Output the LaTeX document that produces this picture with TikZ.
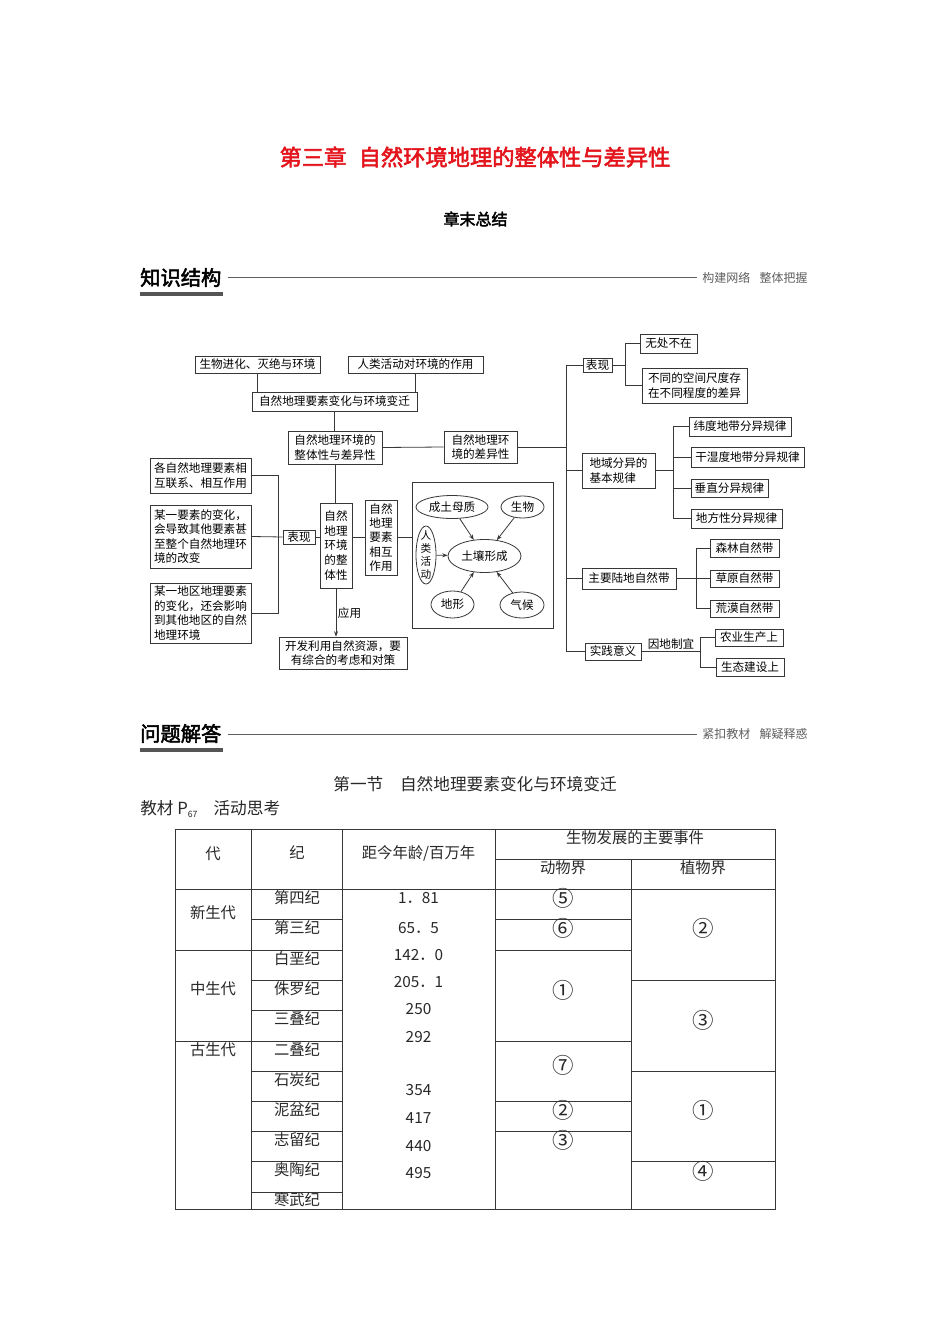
\documentclass[tikz,border=0pt]{standalone}
\usepackage{fontspec}
\setmainfont{Noto Sans CJK SC}
\newfontfamily\cjkb[FakeBold=2.5]{Noto Sans CJK SC}
\usetikzlibrary{shapes.geometric,arrows.meta}
\definecolor{tred}{RGB}{228,20,28}
\definecolor{lnc}{RGB}{55,55,55}
\definecolor{hg}{RGB}{95,95,95}
\definecolor{tcol}{RGB}{40,40,40}
\newcommand\fsz[2]{\fontsize{#1}{#2}\selectfont}
\newcommand\cir[1]{\scalebox{1.4}{#1}}
% \BX[opts]{name}{x1}{y1}{x2}{y2}{text}
\newcommand\BX[7][]{\node[bx,#1,minimum width={(#5-#3)*0.75pt},minimum height={(#6-#4)*0.75pt}] (#2) at ({(#3+#5)/2},{(#4+#6)/2}) {#7};}
% \EL[opts]{name}{cx}{cy}{w}{h}{text}
\newcommand\EL[7][]{\node[elp,#1,minimum width={#5*0.75pt},minimum height={#6*0.75pt}] (#2) at (#3,#4) {#7};}
\begin{document}
\begin{tikzpicture}[x=0.75pt,y=-0.75pt,
  bx/.style={draw=lnc,line width=0.6pt,inner sep=0pt,align=center,font=\fsz{8.7}{10.8}},
  elp/.style={ellipse,draw=lnc,line width=0.6pt,inner sep=0pt,font=\fsz{8.7}{10.8}},
  wire/.style={draw=lnc,line width=0.6pt},
  tx/.style={inner sep=0pt,font=\fsz{8.7}{10.8}},
  tbl/.style={draw=lnc,line width=0.6pt},
  td/.style={inner sep=0pt,text=tcol,font=\fsz{11.5}{13}},
  hdr/.style={inner sep=0pt,font=\cjkb\fsz{15.2}{16}},
  hdrr/.style={inner sep=0pt,text=hg,font=\fsz{9}{10}},
  arr/.style={-{Stealth[length=4pt,width=3pt]}}]
\useasboundingbox (0,0) rectangle (950,1344);
\fill[white] (0,0) rectangle (950,1344);

% ---------- titles ----------
\node[inner sep=0pt,text=tred,font=\cjkb\fsz{16.7}{18}] (title) at (475,157) {第三章\hspace{0.55em}自然环境地理的整体性与差异性};
\node[inner sep=0pt,font=\cjkb\fsz{12}{13}] (sub) at (475.5,219) {章末总结};

% ---------- section header 1 ----------
\node[hdr,anchor=west] (h1) at (140,277.5) {知识结构};
\fill[hg!90!black] (140,292) rectangle (223,296);
\coordinate (h1r) at (697,278);
\draw[hg,line width=0.6pt] (h1.east) ++(6,0) coordinate (h1l) -- (h1l -| h1r);
\node[hdrr,anchor=west] (h1t) at (702,277.5) {构建网络\hspace{7pt}整体把握};

% ---------- mind map ----------
\BX{bio}{195}{356}{320}{373}{生物进化、灭绝与环境}
\BX{hum}{348}{356}{483}{373}{人类活动对环境的作用}
\BX{ele}{252}{392}{417}{411}{自然地理要素变化与环境变迁}
\BX{whd}{288}{431}{382}{464}{自然地理环境的\\整体性与差异性}
\BX{dif}{444}{431}{517}{463}{自然地理环\\境的差异性}

\BX[align=left]{lb1}{150}{458}{251}{493}{各自然地理要素相\\互联系、相互作用}
\BX[align=left]{lb2}{150}{505}{251}{568}{某一要素的变化，\\会导致其他要素甚\\至整个自然地理环\\境的改变}
\BX[align=left]{lb3}{150}{583}{251}{643}{某一地区地理要素\\的变化，还会影响\\到其他地区的自然\\地理环境}
\BX{bx2}{283}{530}{315}{544}{表现}
\BX[font=\fsz{8.7}{11.2}]{whole}{320}{503}{352}{588}{自然\\地理\\环境\\的整\\体性}
\BX[font=\fsz{8.7}{10.6}]{req}{365}{500}{397}{575}{自然\\地理\\要素\\相互\\作用}
\BX{dev}{279}{637}{407}{669}{开发利用自然资源，要\\有综合的考虑和对策}

% soil box
\node[draw=lnc,line width=0.6pt,inner sep=0pt,minimum width={141*0.75pt},minimum height={146*0.75pt}] (sbox) at (482.5,555) {};
\EL{mu}{452}{507}{72}{23}{成土母质}
\EL{sw}{522.5}{507}{43}{22}{生物}
\EL{soil}{484.5}{556}{73}{33}{土壤形成}
\EL{ren}{426}{555}{20}{58}{}
\node[tx,align=center,font=\fsz{8}{9.8}] (rent) at (ren.center) {人\\类\\活\\动};
\EL{dx}{452.5}{604.5}{43}{27}{地形}
\EL{qh}{522}{605}{44}{26}{气候}
\draw[wire,arr] (mu) -- (soil);
\draw[wire,arr] (sw) -- (soil);
\draw[wire,arr] (ren) -- (soil);
\draw[wire,arr] (dx) -- (soil);
\draw[wire,arr] (qh) -- (soil);

% right side
\BX{rb1}{583}{358}{612}{372}{表现}
\BX[align=left]{rb2}{582}{453}{655}{488}{地域分异的\\基本规律}
\BX{rb3}{582}{568}{676}{589}{主要陆地自然带}
\BX{rb4}{585}{643}{641}{660}{实践意义}
\BX{c11}{640}{334}{697}{353}{无处不在}
\BX[align=left]{c12}{642}{368}{747}{403}{不同的空间尺度存\\在不同程度的差异}
\BX{c21}{689}{417}{791}{436}{纬度地带分异规律}
\BX{c22}{691}{447}{804}{467}{干湿度地带分异规律}
\BX{c23}{691}{479}{768}{497}{垂直分异规律}
\BX{c24}{691}{509}{782}{528}{地方性分异规律}
\BX{c31}{710}{539}{779}{557}{森林自然带}
\BX{c32}{710}{570}{779}{587}{草原自然带}
\BX{c33}{710}{600}{779}{617}{荒漠自然带}
\BX{c41}{715}{629}{783}{646}{农业生产上}
\BX{c42}{716}{658}{784}{676}{生态建设上}

% connectors (top)
\draw[wire] (bio.south) -- (bio.south |- ele.north);
\draw[wire] (hum.south) -- (hum.south |- ele.north);
\draw[wire] (ele.south) -- (ele.south |- whd.north);
\draw[wire] (whd.east) -- (dif.west);
% trunk
\coordinate (tk) at (566,0);
\draw[wire] (rb1.west) -- (rb1.west -| tk) -- (rb4.west -| tk) -- (rb4.west);
\draw[wire] (dif.east) -- (dif.east -| tk);
\draw[wire] (rb2.west) -- (rb2.west -| tk);
\draw[wire] (rb3.west) -- (rb3.west -| tk);
% forks right
\coordinate (f1) at (625,0);
\draw[wire] (rb1.east) -- (rb1.east -| f1);
\draw[wire] (c11.west) -- (c11.west -| f1) -- (c12.west -| f1) -- (c12.west);
\coordinate (f2) at (673,0);
\draw[wire] (rb2.east) -- (rb2.east -| f2);
\draw[wire] (c21.west) -- (c21.west -| f2) -- (c24.west -| f2) -- (c24.west);
\draw[wire] (c22.west) -- (c22.west -| f2);
\draw[wire] (c23.west) -- (c23.west -| f2);
\coordinate (f3) at (696,0);
\draw[wire] (rb3.east) -- (rb3.east -| f3);
\draw[wire] (c31.west) -- (c31.west -| f3) -- (c33.west -| f3) -- (c33.west);
\draw[wire] (c32.west) -- (c32.west -| f3);
\coordinate (f4) at (700,0);
\draw[wire] (rb4.east) -- (rb4.east -| f4);
\draw[wire] (c41.west) -- (c41.west -| f4) -- (c42.west -| f4) -- (c42.west);
\node[tx] (yd) at (671,644.5) {因地制宜};
% left side
\coordinate (fl) at (278,0);
\draw[wire] (lb1.east) -- (lb1.east -| fl) -- (lb3.east -| fl) -- (lb3.east);
\draw[wire] (lb2.east) -- (bx2.west);
\draw[wire] (bx2.east) -- (bx2.east -| whole.west);
\draw[wire] (whd.south) -- (whd.south |- whole.north);
\draw[wire] (req.west -| whole.east) -- (req.west);
\draw[wire] (req.east) -- (req.east -| sbox.west);
\draw[wire,arr] (whole.south) -- (whole.south |- dev.north);
\node[tx] (yy) at (349.5,613) {应用};

% ---------- section header 2 ----------
\node[hdr,anchor=west] (h2) at (140,733.5) {问题解答};
\fill[hg!90!black] (140,748) rectangle (223,752);
\draw[hg,line width=0.6pt] (h2.east) ++(6,0.5) coordinate (h2l) -- (h2l -| h1r);
\node[hdrr,anchor=west] (h2t) at (702,733.5) {紧扣教材\hspace{7pt}解疑释惑};

\node[inner sep=0pt,text=tcol,font=\fsz{12.5}{14}] (sec) at (475,784) {第一节\hspace{12.5pt}自然地理要素变化与环境变迁};
\node[inner sep=0pt,text=tcol,font=\fsz{12.5}{14},anchor=west] (jc) at (140,809) {教材 P\raisebox{-0.2em}{\fsz{6.5}{7}67}\hspace{12pt}活动思考};

% ---------- table ----------
\draw[tbl] (175,829) rectangle (775,1209);
\foreach \x in {251,342,495} \draw[tbl] (\x,829) -- (\x,1209);
\draw[tbl] (631,859) -- (631,1209);
\draw[tbl] (495,859) -- (775,859);
\draw[tbl] (175,889) -- (775,889);
\foreach \y in {950,1041} \draw[tbl] (175,\y) -- (251,\y);
\foreach \y in {919,950,980,1010,1041,1071,1101,1131,1161,1192} \draw[tbl] (251,\y) -- (342,\y);
\foreach \y in {919,950,1041,1101,1131} \draw[tbl] (495,\y) -- (631,\y);
\foreach \y in {980,1071,1161} \draw[tbl] (631,\y) -- (775,\y);

\node[td] (hd1) at (213,854) {代};
\node[td] (hd2) at (297,853) {纪};
\node[td] (hd3) at (418.5,853) {距今年龄/百万年};
\node[td] (hd4) at (635,838) {生物发展的主要事件};
\node[td] (hd5) at (563,868) {动物界};
\node[td] (hd6) at (703,868) {植物界};

\node[td] (dai1) at (213,913) {新生代};
\node[td] (dai2) at (213,989) {中生代};
\node[td] (dai3) at (213,1050) {古生代};

\foreach \t/\y [count=\i] in {第四纪/898,第三纪/928,白垩纪/959,侏罗纪/989,三叠纪/1019,二叠纪/1050,石炭纪/1080,泥盆纪/1110,志留纪/1140,奥陶纪/1170,寒武纪/1200}
  \node[td] (ji\i) at (297,\y) {\t};
\foreach \t/\y [count=\i] in {1．81/898,65．5/928,142．0/955,205．1/982,250/1009,292/1037,354/1090,417/1118,440/1146,495/1173}
  \node[td] (age\i) at (418.5,\y) {\t};
\foreach \t/\y [count=\i] in {⑤/898,⑥/928,①/990,⑦/1065,②/1110,③/1140}
  \node[td] (an\i) at (563,\y) {\cir{\t}};
\foreach \t/\y [count=\i] in {②/928,③/1020,①/1110,④/1171}
  \node[td] (pl\i) at (703,\y) {\cir{\t}};
\end{tikzpicture}
\end{document}
